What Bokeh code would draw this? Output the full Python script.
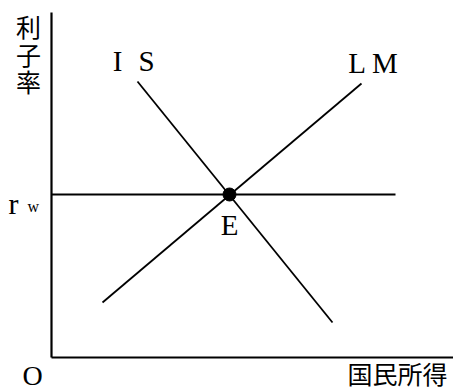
from bokeh.plotting import figure
from bokeh.models import Range1d
from bokeh.core.properties import value
from bokeh.embed import file_html
from bokeh.resources import INLINE

# Data (chart units; origin O at the axes corner)
axis_y_top = 345
axis_x_end = 402
is_x = [86, 281]
is_y = [276, 35]
lm_x = [51, 310]
lm_y = [55, 274]
rw_x = [0, 344]
rw_y = [163, 163]
e_x = [178]
e_y = [163]

SERIF = value("Liberation Serif")
JP = value("Noto Sans CJK JP")

p = figure(width=453, height=392, output_backend="svg", toolbar_location=None,
           x_range=Range1d(-51, 402), y_range=Range1d(-35, 357),
           min_border=0, min_border_left=0, min_border_right=0,
           min_border_top=0, min_border_bottom=0)
p.axis.visible = False
p.grid.visible = False
p.outline_line_color = None
p.background_fill_color = "white"
p.border_fill_color = "white"

# axes
p.line([0, 0], [0, axis_y_top], line_color="black", line_width=2.2)
p.line([0, axis_x_end], [0, 0], line_color="black", line_width=2.2)

# curves
p.line(rw_x, rw_y, line_color="black", line_width=1.8)
p.line(is_x, is_y, line_color="black", line_width=1.8)
p.line(lm_x, lm_y, line_color="black", line_width=1.8)
p.scatter(e_x, e_y, size=13, color="black")

# labels
for ch, yy in zip(["利", "子", "率"], [332, 304, 277]):
    p.text([-23], [yy], text=[ch], text_font=JP, text_font_size="25px",
           text_align="center", text_baseline="middle", text_color="black")

p.text([66], [297], text=["I"], text_font=SERIF, text_font_size="29px",
       text_align="center", text_baseline="middle", text_color="black")
p.text([95], [297], text=["S"], text_font=SERIF, text_font_size="29px",
       text_align="center", text_baseline="middle", text_color="black")
p.text([322], [295], text=["L M"], text_font=SERIF, text_font_size="29px",
       text_align="center", text_baseline="middle", text_color="black")
p.text([-43], [154], text=["r"], text_font=SERIF, text_font_size="30px",
       text_align="left", text_baseline="alphabetic", text_color="black")
p.text([-24], [151], text=["w"], text_font=SERIF, text_font_size="16px",
       text_align="left", text_baseline="alphabetic", text_color="black")
p.text([178], [133], text=["E"], text_font=SERIF, text_font_size="29px",
       text_align="center", text_baseline="middle", text_color="black")
p.text([-19], [-18], text=["O"], text_font=SERIF, text_font_size="28px",
       text_align="center", text_baseline="middle", text_color="black")
p.text([396], [-15], text=["国民所得"], text_font=JP, text_font_size="25px",
       text_align="right", text_baseline="middle", text_color="black")

open("out.html", "w").write(file_html(p, INLINE))
